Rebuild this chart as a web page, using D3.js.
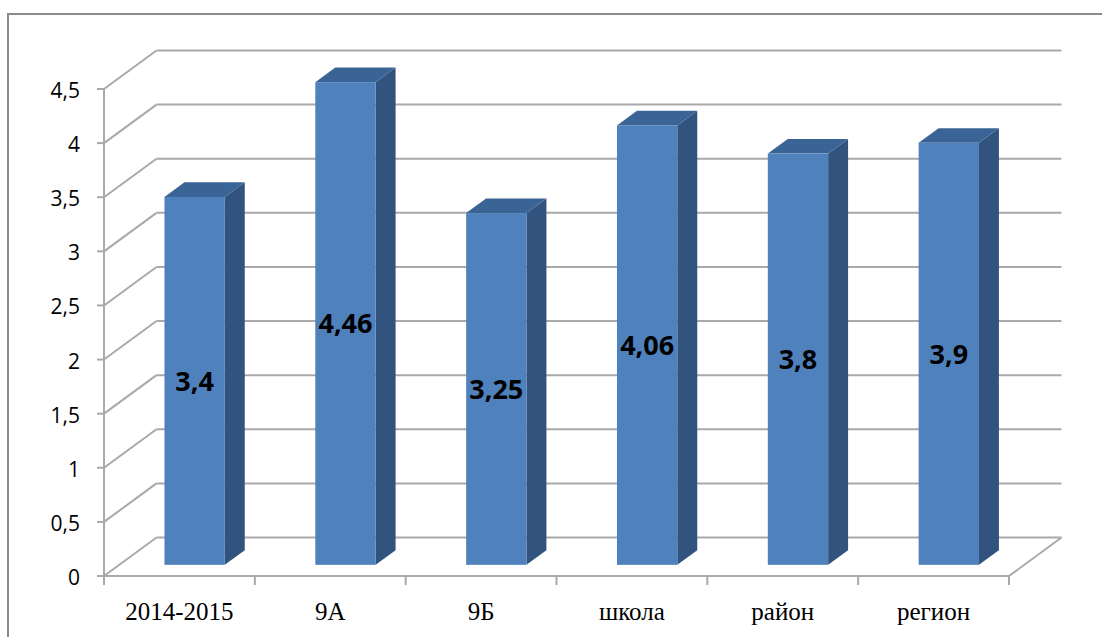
<!DOCTYPE html>
<html>
<head>
<meta charset="utf-8">
<script src="https://cdn.jsdelivr.net/npm/d3@7"></script>
<style>
  html, body { margin: 0; padding: 0; background: #fff; }
  svg { display: block; }
</style>
</head>
<body>
<svg id="chart" width="1102" height="637"></svg>
<script>
const categories = ["2014-2015", "9А", "9Б", "школа", "район", "регион"];
const values = [3.4, 4.46, 3.25, 4.06, 3.8, 3.9];
const valueLabels = ["3,4", "4,46", "3,25", "4,06", "3,8", "3,9"];
const yTicks = [0, 0.5, 1, 1.5, 2, 2.5, 3, 3.5, 4, 4.5];
const yTickLabels = ["0", "0,5", "1", "1,5", "2", "2,5", "3", "3,5", "4", "4,5"];

(function () {
const svg = d3.select("#chart");

// 3D geometry
const DX = 52.5, DY = -38.5;   // full depth offset of the plot box
const F1 = 0.29, F2 = 0.67;    // bar front/back depth fractions

const y = d3.scaleLinear().domain([0, 4.5]).range([576, 89]);
const x = d3.scaleBand().domain(categories).range([104, 1009])
  .paddingInner(0.6).paddingOuter(0.3);
const step = x.step();
const x0 = 104, x1 = 1009;

// outer border
svg.append("rect")
  .attr("x", 8).attr("y", 14).attr("width", 1110).attr("height", 650)
  .attr("fill", "none").attr("stroke", "#8c8c8c").attr("stroke-width", 2);

const gridColor = "#a9a9a9";
const grid = svg.append("g").attr("stroke", gridColor).attr("stroke-width", 2).attr("fill", "none");

// back wall gridlines + side wall diagonals
yTicks.forEach(t => {
  const yy = y(t);
  grid.append("line").attr("x1", x0 + DX).attr("x2", x1 + DX)
    .attr("y1", yy + DY).attr("y2", yy + DY);
  grid.append("line").attr("x1", x0).attr("x2", x0 + DX)
    .attr("y1", yy).attr("y2", yy + DY);
});
// floor front edge and right diagonal
grid.append("line").attr("x1", x0).attr("x2", x1).attr("y1", y(0)).attr("y2", y(0));
grid.append("line").attr("x1", x1).attr("x2", x1 + DX).attr("y1", y(0)).attr("y2", y(0) + DY);

// vertical axis line
grid.append("line").attr("x1", x0).attr("x2", x0).attr("y1", y(4.5)).attr("y2", y(0));
// y ticks
yTicks.forEach(t => {
  grid.append("line").attr("x1", x0 - 7).attr("x2", x0).attr("y1", y(t)).attr("y2", y(t));
});
// x ticks at category boundaries
d3.range(categories.length + 1).forEach(i => {
  const xx = x0 + i * step;
  grid.append("line").attr("x1", xx).attr("x2", xx).attr("y1", y(0)).attr("y2", y(0) + 9);
});

// y tick labels
svg.append("g").selectAll("text").data(yTicks).join("text")
  .attr("x", 80).attr("y", d => y(d) + 9)
  .attr("text-anchor", "end")
  .attr("font-family", "'Open Sans', sans-serif")
  .attr("font-size", 21)
  .attr("fill", "#000")
  .text((d, i) => yTickLabels[i]);

// category labels
svg.append("g").selectAll("text").data(categories).join("text")
  .attr("x", d => x(d) + x.bandwidth() / 2)
  .attr("y", 620)
  .attr("text-anchor", "middle")
  .attr("font-family", "'Liberation Serif', 'Times New Roman', serif")
  .attr("font-size", 25)
  .attr("fill", "#000")
  .text(d => d);

// bars
const frontColor = "#4f81bd", sideColor = "#31537d", topColor = "#3b6496";
const bars = svg.append("g");
categories.forEach((c, i) => {
  const v = values[i];
  const bl = x(c), br = x(c) + x.bandwidth();
  const yt = y(v), yb = y(0);
  const g = bars.append("g");
  const p = (xx, yy, f) => [xx + f * DX, yy + f * DY];
  g.append("polygon")
    .attr("points", [p(br, yb, F1), p(br, yt, F1), p(br, yt, F2), p(br, yb, F2)].map(q => q.join(",")).join(" "))
    .attr("fill", sideColor);
  g.append("polygon")
    .attr("points", [p(bl, yt, F1), p(bl, yt, F2), p(br, yt, F2), p(br, yt, F1)].map(q => q.join(",")).join(" "))
    .attr("fill", topColor);
  g.append("rect")
    .attr("x", bl + F1 * DX).attr("y", yt + F1 * DY)
    .attr("width", br - bl).attr("height", yb - yt)
    .attr("fill", frontColor);
  g.append("text")
    .attr("x", (bl + br) / 2 + F1 * DX)
    .attr("y", (yt + yb) / 2 + F1 * DY + 10)
    .attr("text-anchor", "middle")
    .attr("font-family", "'Open Sans', sans-serif")
    .attr("font-weight", "bold")
    .attr("font-size", 27)
    .attr("fill", "#000")
    .text(valueLabels[i]);
});
})();
</script>
</body>
</html>
